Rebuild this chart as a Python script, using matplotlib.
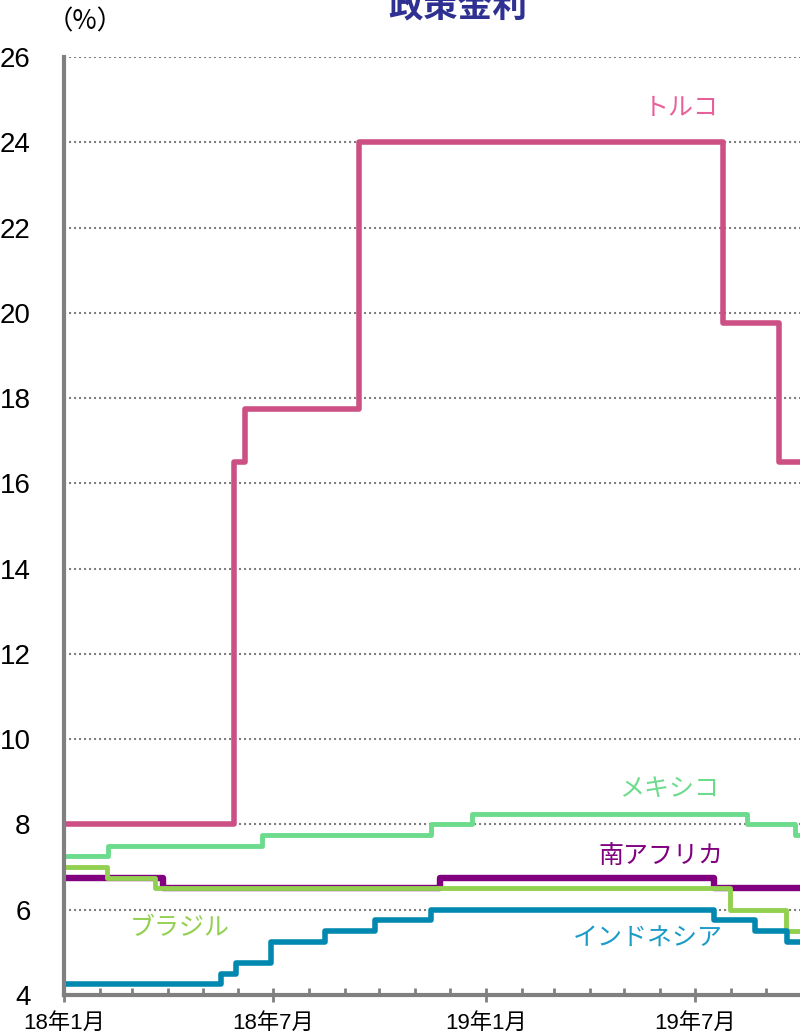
import matplotlib
matplotlib.use('Agg')
import matplotlib.pyplot as plt
import matplotlib.dates as mdates
from datetime import datetime

start = datetime(2018, 1, 1)
end = datetime(2019, 9, 30)

# policy rate change dates and levels
turkey_dates = ['2018-01-01', '2018-05-28', '2018-06-07', '2018-09-13', '2019-07-25', '2019-09-12']
turkey_rates = [8.0, 16.5, 17.75, 24.0, 19.75, 16.5]

mexico_dates = ['2018-01-01', '2018-02-08', '2018-06-21', '2018-11-15', '2018-12-20', '2019-08-15', '2019-09-26']
mexico_rates = [7.25, 7.5, 7.75, 8.0, 8.25, 8.0, 7.75]

safrica_dates = ['2018-01-01', '2018-03-28', '2018-11-22', '2019-07-18']
safrica_rates = [6.75, 6.5, 6.75, 6.5]

brazil_dates = ['2018-01-01', '2018-02-07', '2018-03-21', '2019-07-31', '2019-09-18']
brazil_rates = [7.0, 6.75, 6.5, 6.0, 5.5]

indonesia_dates = ['2018-01-01', '2018-05-17', '2018-05-30', '2018-06-29', '2018-08-15',
                   '2018-09-27', '2018-11-15', '2019-07-18', '2019-08-22', '2019-09-19']
indonesia_rates = [4.25, 4.5, 4.75, 5.25, 5.5, 5.75, 6.0, 5.75, 5.5, 5.25]

series = [
    ('トルコ', turkey_dates, turkey_rates, '#CC5083', 4.0, '#E8609A', ('2019-06-19', 24.8)),
    ('メキシコ', mexico_dates, mexico_rates, '#6CDC8C', 3.5, '#6CDC8C', ('2019-06-09', 8.84)),
    ('南アフリカ', safrica_dates, safrica_rates, '#800080', 4.6, '#800080', ('2019-06-02', 7.27)),
    ('ブラジル', brazil_dates, brazil_rates, '#92D050', 3.5, '#92D050', ('2018-04-11', 5.58)),
    ('インドネシア', indonesia_dates, indonesia_rates, '#0088B0', 4.0, '#1B9BC8', ('2019-05-21', 5.32)),
]

jp = ['Liberation Sans', 'Noto Sans CJK JP']

fig = plt.figure(figsize=(8, 10.36), dpi=100)
ax = fig.add_axes([0.08, 0.0396, 0.92, 0.9054])

for name, d, r, c, lw, tc, pos in series:
    xs = [datetime.strptime(s, '%Y-%m-%d') for s in d] + [datetime(2019, 10, 31)]
    ys = r + [r[-1]]
    ax.step(xs, ys, where='post', color=c, linewidth=lw, solid_joinstyle='round')
    ax.text(datetime.strptime(pos[0], '%Y-%m-%d'), pos[1], name, color=tc, fontsize=18,
            ha='center', va='center', family='Noto Sans CJK JP')

ax.set_xlim(start, end)
ax.set_ylim(4, 26)
ax.set_yticks(range(4, 27, 2))
ax.yaxis.grid(True, linestyle=(0, (1, 1.4)), color='#808080', linewidth=1.5)
ax.set_axisbelow(True)

ax.xaxis.set_minor_locator(mdates.MonthLocator())
ax.set_xticks([datetime(2018, 1, 1), datetime(2018, 7, 1), datetime(2019, 1, 1), datetime(2019, 7, 1)])
ax.set_xticklabels(['18年1月', '18年7月', '19年1月', '19年7月'], family=jp, fontsize=16)

for lab in ax.get_yticklabels():
    lab.set_family('Liberation Sans')
    lab.set_fontsize(20)

ax.tick_params(axis='y', length=0, pad=24)
ax.tick_params(axis='x', which='major', direction='inout', length=10, width=2, color='#808080', pad=8)
ax.tick_params(axis='x', which='minor', direction='in', length=5, width=2, color='#808080')

for s in ['top', 'right']:
    ax.spines[s].set_visible(False)
for s in ['left', 'bottom']:
    ax.spines[s].set_color('#808080')
    ax.spines[s].set_linewidth(3)

fig.text(0.106, 0.979, '（%）', fontsize=19, ha='center', va='center', family='Noto Sans CJK JP')
fig.text(0.572, 0.983, '政策金利', fontsize=25, fontweight='bold', color='#2E3192',
         ha='center', va='baseline', family='Noto Sans CJK JP')

fig.savefig('out.png', dpi=100)
